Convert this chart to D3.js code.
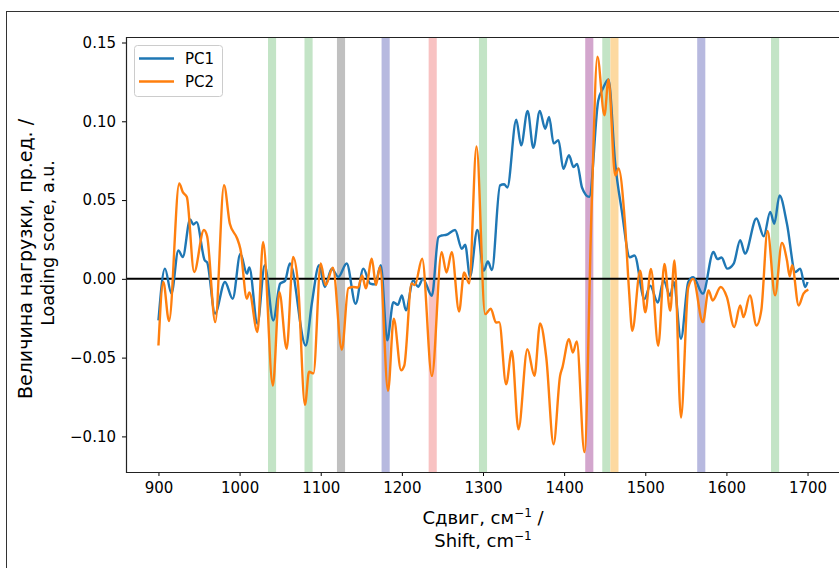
<!DOCTYPE html>
<html>
<head>
<meta charset="utf-8">
<script src="https://cdn.jsdelivr.net/npm/d3@7"></script>
<style>
  body { margin: 0; background: #fff; }
  svg { display: block; font-family: "DejaVu Sans", sans-serif; }
</style>
</head>
<body>
<svg id="chart"></svg>
<script>
// PC loadings (shift in cm^-1, loading score)
var pc1Shift = [900, 908, 916, 924.5, 930, 939, 943, 947, 957, 960, 969.7, 982, 991.5, 1001, 1009, 1012, 1022, 1031, 1041.5, 1050,
  1056, 1062, 1081.5, 1089, 1098, 1105, 1113.5, 1121.7, 1132, 1143, 1152.5, 1161, 1167, 1174, 1182, 1189.5, 1195, 1200, 1205, 1214,
  1220, 1226, 1237, 1245, 1249, 1255, 1265.6, 1274, 1278, 1284, 1293, 1301, 1306, 1311, 1321, 1326, 1330, 1341, 1347, 1355,
  1362, 1370, 1376.6, 1381.5, 1387, 1393, 1399, 1406, 1411.5, 1416, 1422, 1431, 1442, 1448, 1454.6, 1463, 1471, 1481, 1486.7, 1499,
  1506, 1515.5, 1522.5, 1530.7, 1535, 1544, 1553, 1559, 1571, 1584, 1589, 1594, 1601, 1609, 1617, 1623, 1637, 1646, 1654, 1659,
  1665.5, 1674.6, 1685, 1691, 1697, 1700];
var pc1Score = [-0.0264, 0.0065, -0.0094, 0.018, 0.0139, 0.0377, 0.0345, 0.036, 0.0118, 0.0105, -0.022, -0.002, -0.0126, 0.016, 0.0033, 0.0072, -0.0285, 0.0086, -0.0264, -0.003,
  -0.0013, 0.0097, -0.0423, -0.0158, 0.0086, -0.0052, 0.0065, 0.0012, 0.0097, -0.0158, 0.0065, -0.003, -0.0035, 0.0086, -0.039, -0.0148, -0.0165, -0.0105, -0.02, -0.001,
  -0.005, 0.0, -0.0107, 0.0264, 0.0275, 0.028, 0.031, 0.019, 0.0217, 0.0014, 0.031, 0.0052, 0.011, 0.0056, 0.0593, 0.06, 0.058, 0.101, 0.0847, 0.1066,
  0.0832, 0.1066, 0.0953, 0.1027, 0.086, 0.088, 0.0698, 0.0784, 0.071, 0.073, 0.058, 0.052, 0.113, 0.121, 0.1265, 0.073, 0.0434, 0.0137, 0.0148, -0.0128,
  -0.0043, -0.015, -0.001, -0.0107, -0.002, -0.038, -0.002, 0.001, -0.0094, 0.017, 0.0125, 0.0135, 0.0065, 0.0097, 0.0245, 0.016, 0.0383, 0.027, 0.0425, 0.035,
  0.053, 0.035, 0.0043, 0.0065, -0.0052, -0.002];

var pc2Shift = [900, 906, 913, 925.6, 930, 935, 944, 956, 960, 970, 980.8, 988, 997, 1001, 1009, 1012, 1022, 1029, 1041, 1049,
  1058, 1066, 1072, 1080.6, 1085.6, 1091, 1100, 1106, 1115, 1126, 1134, 1140, 1146, 1151, 1155.5, 1163, 1168, 1173, 1183, 1190,
  1199, 1203, 1212, 1216, 1225, 1237, 1249, 1255, 1261.5, 1270.5, 1276.7, 1283, 1292, 1302.6, 1309.6, 1316, 1320, 1328.5, 1335.5, 1343.7,
  1354.7, 1363.4, 1370.4, 1378, 1387, 1395, 1398, 1406, 1410.7, 1415.6, 1425, 1434, 1441, 1449.7, 1454.6, 1463, 1467, 1475, 1480, 1484,
  1493.7, 1500, 1507, 1516, 1523.6, 1530.7, 1536, 1544, 1553, 1559, 1571, 1578, 1583, 1593, 1600.6, 1609.6, 1617, 1621, 1629, 1637,
  1643, 1650.7, 1660, 1668.4, 1674.6, 1678, 1681, 1689, 1695, 1701];
var pc2Score = [-0.0423, -0.002, -0.0268, 0.0605, 0.055, 0.052, 0.0043, 0.031, 0.027, -0.0275, 0.0595, 0.035, 0.0256, 0.019, -0.0126, -0.0086, -0.0338, 0.0234, -0.0677, -0.0084,
  -0.0444, 0.0139, -0.003, -0.080, -0.059, -0.06, 0.0097, -0.004, 0.007, -0.045, -0.006, -0.0052, -0.0055, 0.0022, -0.006, 0.0128, -0.004, 0.0075, -0.071, -0.0253,
  -0.058, -0.055, -0.003, -0.004, 0.0128, -0.0616, 0.0169, 0.004, 0.0169, -0.0207, 0.004, -0.0029, 0.084, -0.0224, -0.019, -0.0277, -0.0275, -0.067, -0.0457, -0.0955,
  -0.0447, -0.0616, -0.0283, -0.05, -0.105, -0.0616, -0.056, -0.0383, -0.0468, -0.0398, -0.110, 0.0476, 0.141, 0.1038, 0.1265, 0.0656, 0.07, 0.035, -0.0075, -0.033,
  0.0052, -0.0213, 0.0062, -0.0425, 0.0094, -0.0202, 0.0116, -0.088, -0.0054, 0.0, -0.0275, -0.0073, -0.0137, -0.0052, -0.0116, -0.0306, -0.0169, -0.0243, -0.0105, -0.0296,
  -0.02, 0.0304, -0.0105, 0.0228, 0.0118, 0.0016, 0.0086, -0.0169, -0.0094, -0.0069];

// highlighted band centres (cm^-1)
var bandCenters = [1040, 1085, 1125, 1180, 1238, 1300, 1431, 1452, 1462, 1569, 1660];

var xTicks = [900, 1000, 1100, 1200, 1300, 1400, 1500, 1600, 1700];
var yTicks = [-0.10, -0.05, 0.00, 0.05, 0.10, 0.15];
var seriesNames = ["PC1", "PC2"];

// styling
var bandColors = ["#c3e4c6", "#c3e4c6", "#c0c0c0", "#b7b9df", "#f8c2c2", "#c3e4c6",
  "#d3a6cd", "#c3e4c6", "#fdd9a0", "#b7b9df", "#c3e4c6"];
var seriesColors = ["#1f77b4", "#ff7f0e"];
var bandWidth = 10;

var W = 839, H = 568;
var plot = { left: 126, top: 37, right: 840, bottom: 472 };

var svg = d3.select("#chart").attr("width", W).attr("height", H);

// outer figure frame
svg.append("rect")
  .attr("x", 6.5).attr("y", 11.5)
  .attr("width", 900).attr("height", 600)
  .attr("fill", "none").attr("stroke", "#333").attr("stroke-width", 1);

var x = d3.scaleLinear().domain([860, 1740]).range([plot.left, plot.right]);
var y = d3.scaleLinear().domain([-0.1226, 0.1535]).range([plot.bottom, plot.top]);

// bands
svg.append("g").selectAll("rect")
  .data(bandCenters)
  .enter().append("rect")
  .attr("x", function(d) { return x(d - bandWidth / 2); })
  .attr("width", function(d) { return x(d + bandWidth / 2) - x(d - bandWidth / 2); })
  .attr("y", plot.top)
  .attr("height", plot.bottom - plot.top)
  .attr("fill", function(d, i) { return bandColors[i]; });

// zero line
svg.append("line")
  .attr("x1", plot.left).attr("x2", plot.right)
  .attr("y1", y(0)).attr("y2", y(0))
  .attr("stroke", "#000").attr("stroke-width", 2);

var line = d3.line()
  .x(function(d) { return x(d[0]); })
  .y(function(d) { return y(d[1]); })
  .curve(d3.curveMonotoneX);

var series = [d3.zip(pc1Shift, pc1Score), d3.zip(pc2Shift, pc2Score)];

svg.append("g").selectAll("path")
  .data(series)
  .enter().append("path")
  .attr("d", line)
  .attr("fill", "none")
  .attr("stroke", function(d, i) { return seriesColors[i]; })
  .attr("stroke-width", 2.4)
  .attr("stroke-linejoin", "round");

// axes
var xAxis = svg.append("g")
  .attr("transform", "translate(0," + plot.bottom + ")")
  .call(d3.axisBottom(x).tickValues(xTicks).tickFormat(d3.format("d")).tickSize(4).tickPadding(6));
var yAxis = svg.append("g")
  .attr("transform", "translate(" + plot.left + ",0)")
  .call(d3.axisLeft(y).tickValues(yTicks).tickFormat(d3.format(".2f")).tickSize(4).tickPadding(6));

[xAxis, yAxis].forEach(function(a) {
  a.select(".domain").remove();
  a.selectAll("line").attr("stroke", "#000").attr("stroke-width", 1);
  a.selectAll("text").attr("fill", "#000").style("font-size", "15px")
    .style("font-family", "DejaVu Sans, sans-serif");
});

// spines (left, top, bottom)
svg.append("path")
  .attr("d", "M" + plot.right + "," + (plot.top + 0.5) + "H" + (plot.left + 0.5) + "V" + (plot.bottom + 0.5) + "H" + plot.right)
  .attr("fill", "none").attr("stroke", "#222").attr("stroke-width", 1.2);

// axis labels
var xl = svg.append("text")
  .attr("text-anchor", "middle")
  .style("font-size", "18px");
xl.append("tspan").attr("x", 483).attr("y", 524).text("Сдвиг, см").append("tspan").attr("dy", -7).style("font-size", "12px").text("−1");
xl.select("tspan").append("tspan").attr("dy", 7).text(" /");
xl.append("tspan").attr("x", 483).attr("y", 547).text("Shift, cm").append("tspan").attr("dy", -7).style("font-size", "12px").text("−1");

svg.append("text")
  .attr("text-anchor", "middle")
  .attr("transform", "translate(32,259) rotate(-90)")
  .style("font-size", "19px")
  .text("Величина нагрузки, пр.ед. /");
svg.append("text")
  .attr("text-anchor", "middle")
  .attr("transform", "translate(54,243) rotate(-90)")
  .style("font-size", "17.5px")
  .text("Loading score, a.u.");

// legend
var lg = svg.append("g").attr("transform", "translate(134,45)");
lg.append("rect")
  .attr("x", 0.5).attr("y", 0.5).attr("width", 88).attr("height", 51)
  .attr("rx", 3).attr("fill", "#fff").attr("fill-opacity", 0.8)
  .attr("stroke", "#ccc");
var items = lg.selectAll(".item").data(seriesNames).enter().append("g")
  .attr("transform", function(d, i) { return "translate(0," + (13.5 + i * 23) + ")"; });
items.append("line")
  .attr("x1", 5).attr("x2", 40)
  .attr("stroke", function(d, i) { return seriesColors[i]; })
  .attr("stroke-width", 2.4);
items.append("text")
  .attr("x", 51).attr("dy", "0.35em")
  .style("font-size", "15px")
  .text(function(d) { return d; });
</script>
</body>
</html>
